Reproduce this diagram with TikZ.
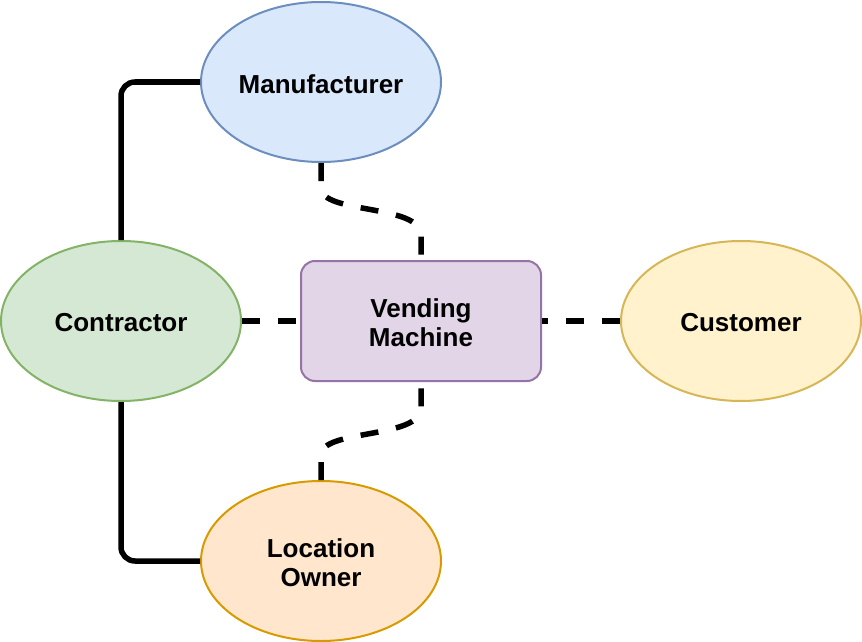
\documentclass[tikz,border=0pt]{standalone}
\usepackage{fontspec}
\setmainfont{Liberation Sans}
\usetikzlibrary{shapes.geometric}
\definecolor{bluef}{HTML}{DAE8FC}\definecolor{blued}{HTML}{6C8EBF}
\definecolor{greenf}{HTML}{D5E8D4}\definecolor{greend}{HTML}{82B366}
\definecolor{purpf}{HTML}{E1D5E7}\definecolor{purpd}{HTML}{9673A6}
\definecolor{yelf}{HTML}{FFF2CC}\definecolor{yeld}{HTML}{D6B656}
\definecolor{oraf}{HTML}{FFE6CC}\definecolor{orad}{HTML}{D79B00}
\tikzset{
  lbl/.style={font=\bfseries\fontsize{26}{29}\selectfont, align=center, text=black},
  ell/.style={ellipse, minimum width=240pt, minimum height=160pt, inner sep=0pt, line width=2pt},
  vmbox/.style={rectangle, rounded corners=14pt, minimum width=240pt, minimum height=120pt, inner sep=0pt, line width=2pt},
  solidcon/.style={line width=5.5pt, rounded corners=14pt},
  dashcon/.style={line width=5.5pt, dash pattern=on 18pt off 18pt}
}
\begin{document}
\begin{tikzpicture}[x=1pt,y=-1pt]
\useasboundingbox (0,0) rectangle (862,642);
\node[ell, fill=bluef, draw=blued] (m) at (321,82) {};
\node[ell, fill=greenf, draw=greend] (c) at (121,321) {};
\node[vmbox, fill=purpf, draw=purpd] (vm) at (421,321) {};
\node[ell, fill=yelf, draw=yeld] (cu) at (741,321) {};
\node[ell, fill=oraf, draw=orad] (lo) at (321,561) {};
\node[lbl] (mt) at (321,84) {Manufacturer};
\node[lbl] (ct) at (121,323) {Contractor};
\node[lbl] (vmt) at (421,323) {Vending\\Machine};
\node[lbl] (cut) at (741,323) {Customer};
\node[lbl] (lot) at (321,563) {Location\\Owner};
\draw[solidcon] (c.north) |- (m.west);
\draw[solidcon] (c.south) |- (lo.west);
\draw[dashcon] (c.east) -- (vm.west);
\draw[dashcon] (cu.west) -- (vm.east);
\draw[dashcon] (m.south) -- (321,188) .. controls (321,214) and (421,204) .. (421,235) -- (vm.north);
\draw[dashcon] (lo.north) -- (321,455) .. controls (321,429) and (421,439) .. (421,408) -- (vm.south);
\end{tikzpicture}
\end{document}
